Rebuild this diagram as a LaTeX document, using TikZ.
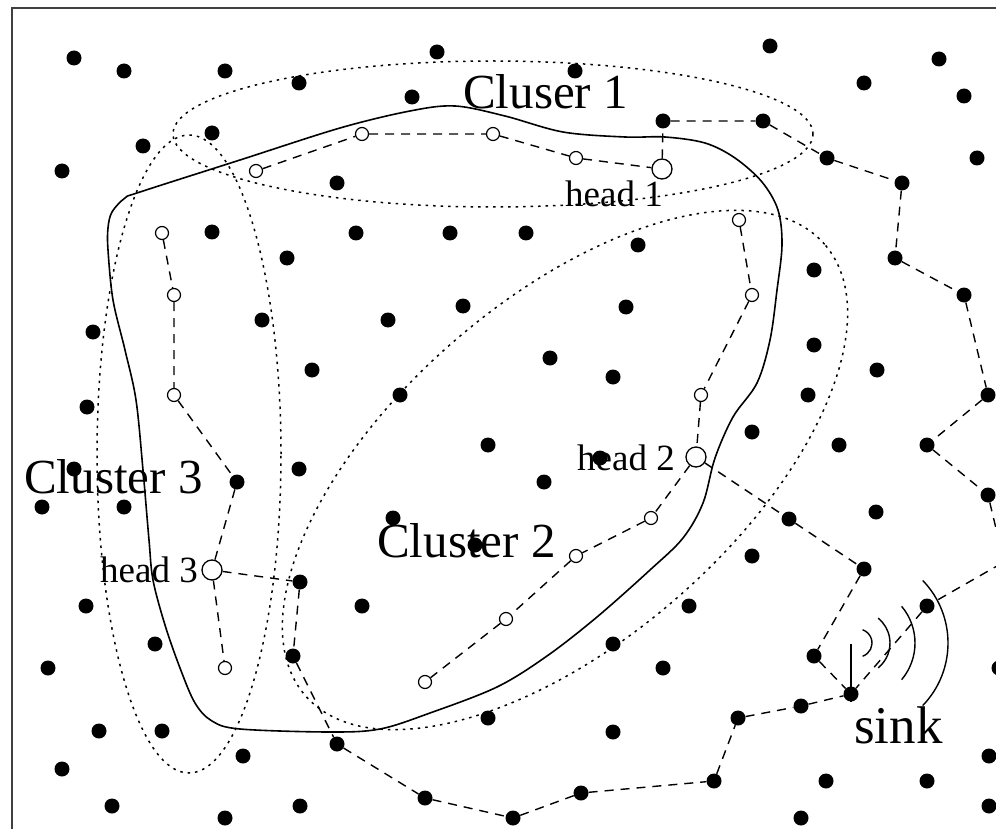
\documentclass[tikz,border=0pt]{standalone}
\usepackage{fontspec}
\setmainfont{Liberation Serif}
\begin{document}
\begin{tikzpicture}[x=1pt,y=-1pt,
  dot/.style={circle,fill=black,inner sep=0pt,minimum size=15pt},
  hol/.style={circle,draw=black,line width=1.2pt,inner sep=0pt,minimum size=13pt},
  headc/.style={circle,draw=black,line width=1.3pt,inner sep=0pt,minimum size=20pt},
  conn/.style={line width=1.4pt,dash pattern=on 9pt off 7pt},
  clus/.style={line width=1.5pt,dash pattern=on 2.5pt off 5pt},
  blob/.style={line width=1.6pt},
  wave/.style={line width=1.4pt},
  frame/.style={line width=1.5pt,black!75},
  bigtxt/.style={font=\fontsize{49}{49}\selectfont,inner sep=0pt,anchor=base west},
  headtxt/.style={font=\fontsize{37}{37}\selectfont,inner sep=0pt,anchor=base west},
  sinktxt/.style={font=\fontsize{53}{53}\selectfont,inner sep=0pt,anchor=base west}]
\useasboundingbox (0,0) rectangle (996,829);
\clip (0,0) rectangle (996,829);
\fill[white] (0,0) rectangle (996,829);
\draw[frame] (12,829) -- (12,8) -- (996,8);

% cluster regions
\draw[clus] (493,134) ellipse [x radius=320pt, y radius=73pt];
\draw[clus] (189,454) ellipse [x radius=92pt, y radius=319pt];
\draw[clus, rotate around={41:(565,470)}] (565,470) ellipse [x radius=344pt, y radius=170pt];

% solid region
\draw[blob] plot[smooth cycle, tension=0.55] coordinates {
 (112,212) (125,198) (140,192) (240,160) (340,128) (410,111) (455,106) (505,116)
 (563,132) (625,137) (665,137) (705,143) (735,158) (762,182) (778,210) (782,245)
 (777,290) (770,340) (757,383) (733,417) (715,458) (703,503) (683,538) (650,570)
 (597,617) (547,656) (497,687) (430,713) (380,729) (330,732) (240,729) (212,721)
 (195,703) (180,668) (165,625) (153,580) (149,540) (143,470) (136,400) (125,350)
 (113,300) (108,250) (108,228)};

% filled sensor nodes
\node[dot] (d1) at (74,58) {};
\node[dot] (d2) at (124,71) {};
\node[dot] (d3) at (225,71) {};
\node[dot] (d4) at (299,83) {};
\node[dot] (d5) at (437,52) {};
\node[dot] (d6) at (412,97) {};
\node[dot] (d7) at (575,71) {};
\node[dot] (d8) at (770,46) {};
\node[dot] (d9) at (939,59) {};
\node[dot] (d10) at (864,83) {};
\node[dot] (d11) at (964,96) {};
\node[dot] (d12) at (212,133) {};
\node[dot] (d13) at (143,146) {};
\node[dot] (d14) at (62,171) {};
\node[dot] (d15) at (337,183) {};
\node[dot] (d16) at (663,121) {};
\node[dot] (d17) at (763,121) {};
\node[dot] (d18) at (827,158) {};
\node[dot] (d19) at (977,158) {};
\node[dot] (d20) at (902,183) {};
\node[dot] (d21) at (212,232) {};
\node[dot] (d22) at (356,233) {};
\node[dot] (d23) at (450,233) {};
\node[dot] (d24) at (526,233) {};
\node[dot] (d25) at (638,245) {};
\node[dot] (d26) at (287,258) {};
\node[dot] (d27) at (895,258) {};
\node[dot] (d28) at (814,270) {};
\node[dot] (d29) at (964,295) {};
\node[dot] (d30) at (262,320) {};
\node[dot] (d31) at (388,320) {};
\node[dot] (d32) at (463,306) {};
\node[dot] (d33) at (626,307) {};
\node[dot] (d34) at (93,332) {};
\node[dot] (d35) at (814,345) {};
\node[dot] (d36) at (550,358) {};
\node[dot] (d37) at (312,370) {};
\node[dot] (d38) at (877,370) {};
\node[dot] (d39) at (613,377) {};
\node[dot] (d40) at (400,395) {};
\node[dot] (d41) at (808,395) {};
\node[dot] (d42) at (988,395) {};
\node[dot] (d43) at (87,407) {};
\node[dot] (d44) at (752,432) {};
\node[dot] (d45) at (488,445) {};
\node[dot] (d46) at (839,445) {};
\node[dot] (d47) at (927,445) {};
\node[dot] (d48) at (600,458) {};
\node[dot] (d49) at (74,469) {};
\node[dot] (d50) at (299,469) {};
\node[dot] (d51) at (237,482) {};
\node[dot] (d52) at (544,482) {};
\node[dot] (d53) at (988,495) {};
\node[dot] (d54) at (42,507) {};
\node[dot] (d55) at (124,507) {};
\node[dot] (d56) at (876,512) {};
\node[dot] (d57) at (789,519) {};
\node[dot] (d58) at (393,518) {};
\node[dot] (d59) at (475,545) {};
\node[dot] (d60) at (752,556) {};
\node[dot] (d61) at (864,569) {};
\node[dot] (d62) at (300,582) {};
\node[dot] (d63) at (86,606) {};
\node[dot] (d64) at (362,606) {};
\node[dot] (d65) at (689,606) {};
\node[dot] (d66) at (927,606) {};
\node[dot] (d67) at (155,644) {};
\node[dot] (d68) at (613,644) {};
\node[dot] (d69) at (293,656) {};
\node[dot] (d70) at (814,656) {};
\node[dot] (d71) at (48,668) {};
\node[dot] (d72) at (663,668) {};
\node[dot] (d73) at (999,668) {};
\node[dot] (sink) at (851,694) {};
\node[dot] (d74) at (801,706) {};
\node[dot] (d75) at (488,718) {};
\node[dot] (d76) at (738,718) {};
\node[dot] (d77) at (99,731) {};
\node[dot] (d78) at (162,731) {};
\node[dot] (d79) at (613,732) {};
\node[dot] (d80) at (337,744) {};
\node[dot] (d81) at (243,756) {};
\node[dot] (d82) at (989,756) {};
\node[dot] (d83) at (62,769) {};
\node[dot] (d84) at (714,781) {};
\node[dot] (d85) at (826,781) {};
\node[dot] (d86) at (927,781) {};
\node[dot] (d87) at (581,793) {};
\node[dot] (d88) at (425,798) {};
\node[dot] (d89) at (112,806) {};
\node[dot] (d90) at (300,806) {};
\node[dot] (d91) at (989,806) {};
\node[dot] (d92) at (225,818) {};
\node[dot] (d93) at (513,818) {};
\node[dot] (d94) at (801,818) {};
\coordinate (offr) at (1004,562);

% cluster members (hollow)
\node[hol] (a1) at (256,171) {};
\node[hol] (a2) at (362,134) {};
\node[hol] (a3) at (493,134) {};
\node[hol] (a4) at (576,158) {};
\node[headc] (h1) at (662,169) {};
\node[hol] (c1) at (162,233) {};
\node[hol] (c2) at (174,295) {};
\node[hol] (c3) at (174,395) {};
\node[headc] (h3) at (212,570) {};
\node[hol] (c5) at (225,668) {};
\node[hol] (b1) at (739,220) {};
\node[hol] (b2) at (752,295) {};
\node[hol] (b3) at (701,395) {};
\node[headc] (h2) at (696,457) {};
\node[hol] (b5) at (651,518) {};
\node[hol] (b6) at (576,556) {};
\node[hol] (b7) at (506,619) {};
\node[hol] (b8) at (425,682) {};

% routes
\draw[conn] (a1) -- (a2) -- (a3) -- (a4) -- (h1) -- (d16) -- (d17) -- (d18) -- (d20)
  -- (d27) -- (d29) -- (d42) -- (d47) -- (d53) -- (offr) -- (d66) -- (sink);
\draw[conn] (b1) -- (b2) -- (b3) -- (h2) -- (b5) -- (b6) -- (b7) -- (b8);
\draw[conn] (h2) -- (d57) -- (d61) -- (d70) -- (sink);
\draw[conn] (c1) -- (c2) -- (c3) -- (d51) -- (h3) -- (c5);
\draw[conn] (h3) -- (d62) -- (d69) -- (d80) -- (d88) -- (d93) -- (d87) -- (d84)
  -- (d76) -- (d74) -- (sink);

% sink antenna and waves
\coordinate (ant) at (851,644);
\coordinate (wc) at (858,643);
\draw[wave] (ant) -- (sink.south);
\draw[wave] (wc) ++(-71:14pt) arc[start angle=-71, end angle=71, radius=14pt];
\draw[wave] (wc) ++(-51:32pt) arc[start angle=-51, end angle=51, radius=32pt];
\draw[wave] (wc) ++(-40:57pt) arc[start angle=-40, end angle=40, radius=57pt];
\draw[wave] (wc) ++(-44:90pt) arc[start angle=-44, end angle=44, radius=90pt];

% labels
\node[bigtxt] (l1) at (463,109) {Cluser 1};
\node[bigtxt] (l2) at (377,557) {Cluster 2};
\node[bigtxt] (l3) at (24,493) {Cluster 3};
\node[headtxt] (lh1) at (565,207) {head 1};
\node[headtxt] (lh2) at (577,470) {head 2};
\node[headtxt] (lh3) at (100,582) {head 3};
\node[sinktxt] (ls) at (854,743) {sink};
\end{tikzpicture}
\end{document}
